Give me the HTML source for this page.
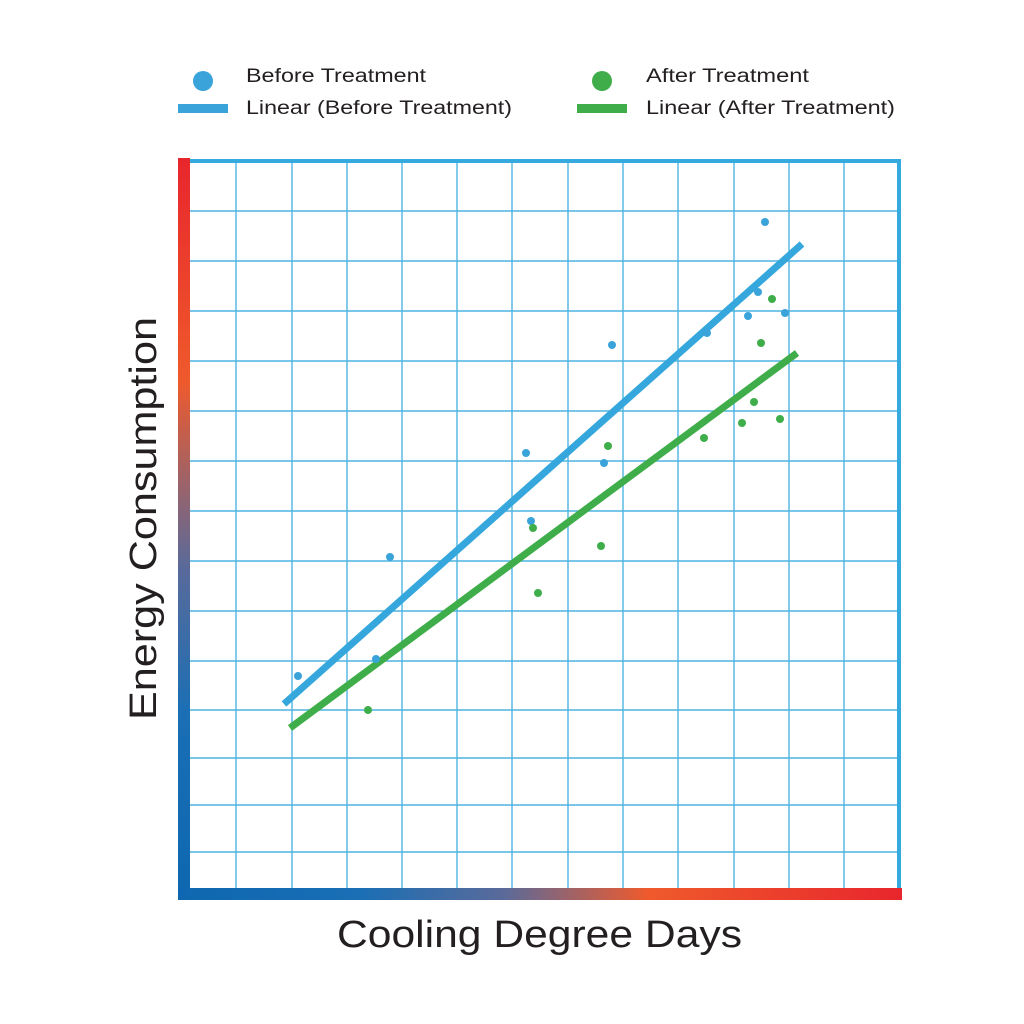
<!DOCTYPE html>
<html><head><meta charset="utf-8"><style>
body{margin:0;background:#fff}
svg{display:block}
text{font-family:"Liberation Sans",sans-serif;fill:#231f20}
</style></head><body>
<svg width="1024" height="1024" viewBox="0 0 1024 1024">
<defs>
<linearGradient id="gv" x1="0" y1="0" x2="0" y2="1">
<stop offset="0" stop-color="#e8262d"/><stop offset="0.3" stop-color="#ef5a2c"/><stop offset="0.55" stop-color="#5a6a9a"/><stop offset="0.75" stop-color="#1a6fb5"/><stop offset="1" stop-color="#0e67b0"/></linearGradient>
<linearGradient id="gh" x1="0" y1="0" x2="1" y2="0">
<stop offset="0" stop-color="#0e67b0"/><stop offset="0.25" stop-color="#1a6fb5"/><stop offset="0.45" stop-color="#5a6a9a"/><stop offset="0.65" stop-color="#ef5a2c"/><stop offset="1" stop-color="#e8262d"/></linearGradient>
</defs>
<g stroke="#4fb3e0" stroke-width="1.4">
<line x1="236" y1="161" x2="236" y2="890"/><line x1="292" y1="161" x2="292" y2="890"/><line x1="347" y1="161" x2="347" y2="890"/><line x1="402" y1="161" x2="402" y2="890"/><line x1="457" y1="161" x2="457" y2="890"/><line x1="512" y1="161" x2="512" y2="890"/><line x1="568" y1="161" x2="568" y2="890"/><line x1="623" y1="161" x2="623" y2="890"/><line x1="678" y1="161" x2="678" y2="890"/><line x1="734" y1="161" x2="734" y2="890"/><line x1="789" y1="161" x2="789" y2="890"/><line x1="844" y1="161" x2="844" y2="890"/>
<line x1="185" y1="211" x2="899" y2="211"/><line x1="185" y1="261" x2="899" y2="261"/><line x1="185" y1="311" x2="899" y2="311"/><line x1="185" y1="361" x2="899" y2="361"/><line x1="185" y1="411" x2="899" y2="411"/><line x1="185" y1="461" x2="899" y2="461"/><line x1="185" y1="511" x2="899" y2="511"/><line x1="185" y1="561" x2="899" y2="561"/><line x1="185" y1="611" x2="899" y2="611"/><line x1="185" y1="661" x2="899" y2="661"/><line x1="185" y1="710" x2="899" y2="710"/><line x1="185" y1="758" x2="899" y2="758"/><line x1="185" y1="805" x2="899" y2="805"/><line x1="185" y1="852" x2="899" y2="852"/>
</g>
<path d="M184 161 H899 V894" fill="none" stroke="#35aadf" stroke-width="4"/>
<rect x="178" y="158" width="12" height="742" fill="url(#gv)"/>
<rect x="178" y="888" width="724" height="12" fill="url(#gh)"/>
<line x1="284" y1="704" x2="802" y2="244" stroke="#35a7dc" stroke-width="7"/>
<line x1="290" y1="728" x2="797" y2="353" stroke="#3fae4a" stroke-width="7"/>
<g fill="#3aa4da">
<circle cx="298" cy="676" r="4"/><circle cx="390" cy="557" r="4"/><circle cx="376" cy="659" r="4"/><circle cx="526" cy="453" r="4"/><circle cx="531" cy="521" r="4"/><circle cx="612" cy="345" r="4"/><circle cx="604" cy="463" r="4"/><circle cx="707" cy="333" r="4"/><circle cx="765" cy="222" r="4"/><circle cx="758" cy="292" r="4"/><circle cx="748" cy="316" r="4"/><circle cx="785" cy="313" r="4"/></g>
<g fill="#3fae4a">
<circle cx="368" cy="710" r="4"/><circle cx="533" cy="528" r="4"/><circle cx="538" cy="593" r="4"/><circle cx="601" cy="546" r="4"/><circle cx="608" cy="446" r="4"/><circle cx="704" cy="438" r="4"/><circle cx="742" cy="423" r="4"/><circle cx="754" cy="402" r="4"/><circle cx="761" cy="343" r="4"/><circle cx="772" cy="299" r="4"/><circle cx="780" cy="419" r="4"/></g>
<circle cx="203" cy="81" r="10" fill="#3aa4da"/>
<rect x="178" y="104" width="50" height="9" fill="#3aa4da"/>
<circle cx="602" cy="81" r="10" fill="#3fae4a"/>
<rect x="577" y="104" width="50" height="9" fill="#3fae4a"/>
<text x="246" y="82" font-size="19" textLength="180" lengthAdjust="spacingAndGlyphs">Before Treatment</text>
<text x="246" y="114" font-size="19" textLength="266" lengthAdjust="spacingAndGlyphs">Linear (Before Treatment)</text>
<text x="646" y="82" font-size="19" textLength="163" lengthAdjust="spacingAndGlyphs">After Treatment</text>
<text x="646" y="114" font-size="19" textLength="249" lengthAdjust="spacingAndGlyphs">Linear (After Treatment)</text>
<text x="337" y="947" font-size="38" textLength="405" lengthAdjust="spacingAndGlyphs">Cooling Degree Days</text>
<text transform="translate(156,720) rotate(-90)" font-size="38" textLength="403" lengthAdjust="spacingAndGlyphs">Energy Consumption</text>
</svg>
</body></html>
